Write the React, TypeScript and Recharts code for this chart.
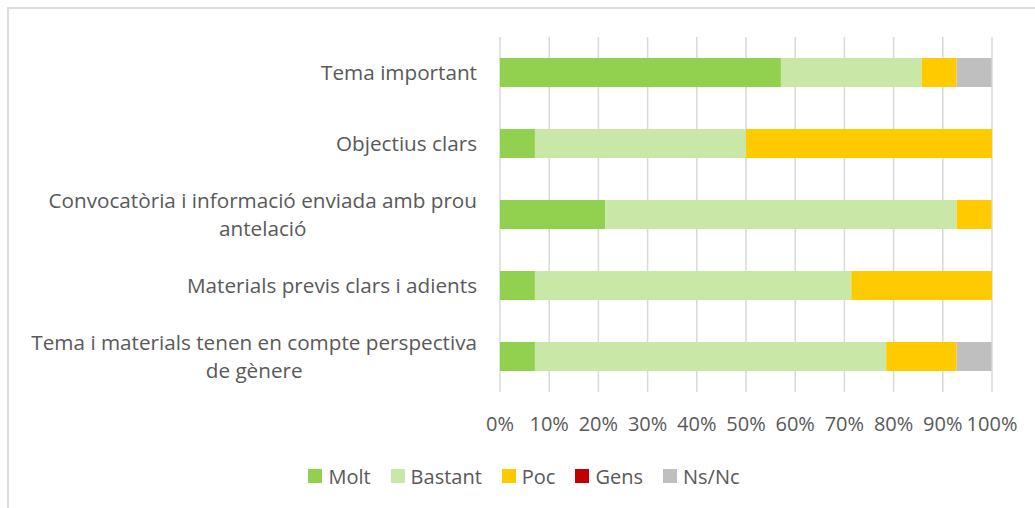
import { BarChart, Bar, XAxis, YAxis, CartesianGrid } from 'recharts'

const categories = [
  'Tema important',
  'Objectius clars',
  'Convocatòria i informació enviada amb prou\nantelació',
  'Materials previs clars i adients',
  'Tema i materials tenen en compte perspectiva\nde gènere',
]

// percentages
const molt = [57.1, 7.1, 21.4, 7.1, 7.1]
const bastant = [28.6, 42.9, 71.4, 64.3, 71.4]
const poc = [7.1, 50.0, 7.1, 28.6, 14.3]
const gens = [0, 0, 0, 0, 0]
const nsnc = [7.1, 0, 0, 0, 7.1]

const xTicks = [0, 10, 20, 30, 40, 50, 60, 70, 80, 90, 100]

const SERIES = [
  { key: 'Molt', color: '#92D050' },
  { key: 'Bastant', color: '#C9E7A7' },
  { key: 'Poc', color: '#FFCA00' },
  { key: 'Gens', color: '#C00000' },
  { key: 'Ns/Nc', color: '#BFBFBF' },
]

const data = categories.map((name, i) => ({
  name,
  Molt: molt[i],
  Bastant: bastant[i],
  Poc: poc[i],
  Gens: gens[i],
  'Ns/Nc': nsnc[i],
}))

const FONT = '"Open Sans", Lato, sans-serif'
const LABEL_SIZE = 20.7
const TICK_SIZE = 20
const LEGEND_SIZE = 20
const TEXT = '#595959'

let ctx: CanvasRenderingContext2D | null = null
const measure = (s: string) => {
  if (!ctx) ctx = document.createElement('canvas').getContext('2d')
  if (!ctx) return s.length * 10
  ctx.font = `${LABEL_SIZE}px "Open Sans"`
  return ctx.measureText(s).width
}

// right-aligned block, wrapped lines centred inside it (as Office does)
const CategoryTick = ({ x, y, payload }: any) => {
  const lines: string[] = String(payload.value).split('\n')
  const maxW = Math.max(...lines.map(measure))
  const cx = x - maxW / 2
  return (
    <g>
      {lines.map((l, i) => (
        <text
          key={i}
          x={lines.length > 1 ? cx : x}
          y={y + 7 + (i - (lines.length - 1) / 2) * 28}
          textAnchor={lines.length > 1 ? 'middle' : 'end'}
          fill={TEXT}
          fontSize={LABEL_SIZE}
          fontFamily={FONT}
        >
          {l}
        </text>
      ))}
    </g>
  )
}

const PercentTick = ({ x, y, payload }: any) => (
  <text x={x} y={y + 39} textAnchor="middle" fill={TEXT} fontSize={TICK_SIZE} fontFamily={FONT}>
    {payload.value}%
  </text>
)

export default function App() {
  return (
    <div style={{ position: 'absolute', left: 0, top: 0, width: 1035, height: 508, overflow: 'hidden', background: '#fff' }}>
      <div
        style={{
          position: 'absolute', left: 7, top: 7, width: 1060, height: 540,
          border: '2px solid #dedede', boxSizing: 'border-box',
        }}
      />
      <div style={{ position: 'absolute', left: 0, top: 0 }}>
        <BarChart
          width={1035}
          height={508}
          data={data}
          layout="vertical"
          margin={{ top: 37, right: 43, bottom: 86, left: 0 }}
        >
          <CartesianGrid horizontal={false} stroke="#d9d9d9" strokeWidth={1.5} />
          <XAxis
            type="number"
            domain={[0, 100]}
            ticks={xTicks}
            height={30}
            axisLine={false}
            tickLine={false}
            tickSize={0}
            tickMargin={0}
            tick={<PercentTick />}
            interval={0}
          />
          <YAxis
            type="category"
            dataKey="name"
            width={500}
            axisLine={false}
            tickLine={false}
            tickSize={0}
            tickMargin={23}
            tick={<CategoryTick />}
            interval={0}
          />
          {SERIES.map((s) => (
            <Bar key={s.key} dataKey={s.key} stackId="a" fill={s.color} barSize={29} isAnimationActive={false} />
          ))}
        </BarChart>
      </div>
      <div
        style={{
          position: 'absolute', left: 0, top: 462, width: 1048, height: 28,
          display: 'flex', justifyContent: 'center', alignItems: 'center',
          fontFamily: FONT, fontSize: LEGEND_SIZE, color: TEXT,
        }}
      >
        {SERIES.map((s) => (
          <div key={s.key} style={{ display: 'flex', alignItems: 'center', margin: '0 10px' }}>
            <span style={{ width: 14, height: 14, background: s.color, marginRight: 6, display: 'inline-block' }} />
            <span>{s.key}</span>
          </div>
        ))}
      </div>
    </div>
  )
}
